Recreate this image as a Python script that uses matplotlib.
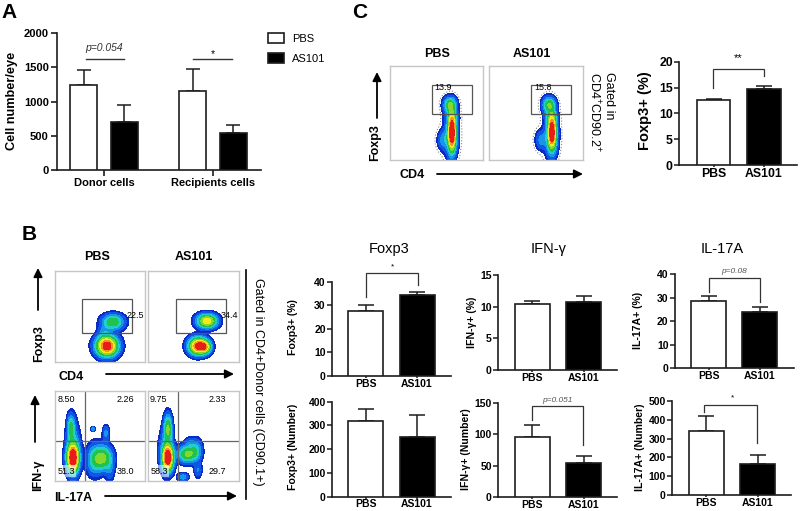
import numpy as np
import matplotlib
matplotlib.use('Agg')
import matplotlib.pyplot as plt
from matplotlib.patches import Rectangle

plt.rcParams['font.family'] = ['Liberation Sans', 'DejaVu Sans']
plt.rcParams['mathtext.default'] = 'regular'

W, H = 800, 511
DARK = '#1c1c1c'

# values
groups = ['PBS', 'AS101']
a_cats = ['Donor cells', 'Recipients cells']
a_pbs = [1240, 1150]
a_pbs_top = [1465, 1480]
a_as101 = [705, 535]
a_as101_top = [945, 660]

c_vals = [12.5, 14.7]
c_tops = [12.8, 15.3]

foxp3_pct = [27.5, 34.5]
foxp3_pct_top = [30, 35.5]
foxp3_num = [318, 252]
foxp3_num_top = [370, 345]
ifn_pct = [10.4, 10.8]
ifn_pct_top = [10.9, 11.8]
ifn_num = [96, 54]
ifn_num_top = [114, 66]
il17_pct = [28.5, 24]
il17_pct_top = [30.8, 25.8]
il17_num = [343, 165]
il17_num_top = [420, 213]

# flow plot density blobs: x, y (figure pixels), sx, sy, height
b1_blobs = [(113, 322, 7, 5, .42), (107, 346, 7, 6.5, 1.0), (104, 332, 4, 5, .1)]
b2_blobs = [(207, 321, 6.5, 4.5, .68), (198, 346, 6, 5.5, .9), (205, 347, 4, 4, .5)]
b3_blobs = [(73, 458, 3.8, 9, 1.0), (71, 427, 2.4, 8, .3), (73, 448, 4.5, 17, .2), (103, 458, 6, 8, .46),
            (94, 460, 5, 10, .24), (93, 429, 1.2, 1.4, .2), (106, 433, 2.2, 5, .16), (110, 470, 3, 8, .1)]
b4_blobs = [(168, 458, 3.4, 8, 1.0), (168, 428, 2.6, 9, .42), (166, 450, 4.5, 14, .2), (187, 454, 6, 5.5, .46),
            (196, 450, 4, 7, .22), (190, 442, 3, 3, .1), (183, 477, 3.5, 2.5, .2), (198, 470, 2.5, 5, .14)]
c1_blobs = [(450, 105, 4, 5, .42), (452, 132, 2.4, 12, 1.0), (451, 135, 4.5, 14, .22), (443, 140, 3.5, 6, .16),
            (452, 117, 4, 4, .14)]
c2_blobs = [(549, 105, 4, 5, .42), (552, 132, 2.6, 11, .95), (551, 135, 4.5, 14, .22), (541, 140, 3.5, 6, .16),
            (551, 117, 4, 4, .14)]

flow_levels = [.035, .07, .14, .22, .32, .44, .58, .72, .86, 5]
flow_colors = ['#0a2bc4', '#0f55e6', '#1596ea', '#1fcfc8', '#22c24c', '#84d92c', '#f4e81e', '#f5961c', '#e81c18']


def px_axes(fig, left, top, right, bottom):
    return fig.add_axes([left / W, 1 - bottom / H, (right - left) / W, (bottom - top) / H])


def bar_panel(fig, left, right, y0, ymax_px, ymax, ticks, centers, width, vals, tops, labels, fs=7.5, cap=5.5):
    ax = px_axes(fig, left, ymax_px, right, y0)
    unit = centers[1] - centers[0]
    ax.set_xlim((left - centers[0]) / unit, (right - centers[0]) / unit)
    ax.set_ylim(0, ymax)
    pos = np.arange(len(vals))
    errs = np.array(tops) - np.array(vals)
    ax.bar(pos, vals, width / unit, color=['white', 'black'], edgecolor=DARK, linewidth=1.2, zorder=3)
    ax.errorbar(pos, vals, yerr=[np.zeros(len(vals)), errs], fmt='none', ecolor=DARK, elinewidth=1.1,
                capsize=cap, capthick=1.1, zorder=2)
    ax.set_xticks(pos)
    ax.set_xticklabels(labels, fontsize=fs, fontweight='bold')
    ax.set_yticks(ticks)
    ax.set_yticklabels([str(t) for t in ticks], fontsize=fs, fontweight='bold')
    ax.tick_params(axis='y', length=3.5, width=1.1, color=DARK, pad=1)
    ax.tick_params(axis='x', length=1.5, width=1.1, color=DARK, pad=.5)
    ax.patch.set_alpha(0)
    for s in ['top', 'right']:
        ax.spines[s].set_visible(False)
    for s in ['left', 'bottom']:
        ax.spines[s].set_linewidth(1.2)
        ax.spines[s].set_color(DARK)
    return ax


def flow_panel(fig, left, top, right, bottom, blobs, speck=False):
    ax = px_axes(fig, left, top, right, bottom)
    xx, yy = np.meshgrid(np.linspace(left, right, 300), np.linspace(top, bottom, 300))
    dens = np.zeros_like(xx)
    for cx, cy, sx, sy, amp in blobs:
        dens += amp * np.exp(-0.5 * ((xx - cx) / sx) ** 2 - 0.5 * ((yy - cy) / sy) ** 2)
    if speck:
        ax.contour(xx, yy, dens, levels=[.012], colors='#888888', linewidths=.8, linestyles=':')
    ax.contourf(xx, yy, dens, levels=flow_levels, colors=flow_colors)
    ax.set_xlim(left, right)
    ax.set_ylim(bottom, top)
    ax.set_xticks([])
    ax.set_yticks([])
    for s in ax.spines.values():
        s.set_color('#c6c6c6')
        s.set_linewidth(1)
    return ax


def gate(ax, x0, y0, x1, y1):
    ax.add_patch(Rectangle((x0, y0), x1 - x0, y1 - y0, fill=False, edgecolor='#555555', linewidth=.9))


def bracket(x0, x1, y, y0, y1):
    over.plot([x0, x0, x1, x1], [y0, y, y, y1], color='#333333', lw=.9, solid_joinstyle='miter')


def arrow(x0, y0, x1, y1):
    over.annotate('', xy=(x1, y1), xytext=(x0, y0),
                  arrowprops=dict(arrowstyle='-|>', color='black', lw=1.3, mutation_scale=13, shrinkA=0, shrinkB=0))


def txt(x, y, s, size=8, weight='bold', style='normal', color='black', rot=0, ha='center', va='center', **kw):
    over.text(x, y, s, fontsize=size, fontweight=weight, fontstyle=style, color=color,
              rotation=rot, ha=ha, va=va, **kw)


fig = plt.figure(figsize=(W / 100, H / 100), dpi=100)

# panel A
ax_a = px_axes(fig, 57, 33.3, 261, 170)
ax_a.set_xlim((57 - 104) / 109, (261 - 104) / 109)
ax_a.set_ylim(0, 2000)
pos_a = np.arange(len(a_cats))
off = 0.186
bw = 0.252
b1 = ax_a.bar(pos_a - off, a_pbs, bw, color='white', edgecolor=DARK, linewidth=1.2, zorder=3, label='PBS')
b2 = ax_a.bar(pos_a + off, a_as101, bw, color='black', edgecolor=DARK, linewidth=1.2, zorder=3, label='AS101')
ax_a.errorbar(pos_a - off, a_pbs, yerr=[np.zeros(2), np.array(a_pbs_top) - np.array(a_pbs)], fmt='none',
              ecolor=DARK, elinewidth=1.1, capsize=5.2, capthick=1.1, zorder=2)
ax_a.errorbar(pos_a + off, a_as101, yerr=[np.zeros(2), np.array(a_as101_top) - np.array(a_as101)], fmt='none',
              ecolor=DARK, elinewidth=1.1, capsize=5.2, capthick=1.1, zorder=2)
ax_a.set_xticks(pos_a)
ax_a.set_xticklabels(a_cats, fontsize=8, fontweight='bold')
ax_a.set_yticks([0, 500, 1000, 1500, 2000])
ax_a.set_yticklabels(['0', '500', '1000', '1500', '2000'], fontsize=8, fontweight='bold')
ax_a.tick_params(axis='both', length=4, width=1.2, color=DARK, pad=2)
for s in ['top', 'right']:
    ax_a.spines[s].set_visible(False)
for s in ['left', 'bottom']:
    ax_a.spines[s].set_linewidth(1.2)
    ax_a.spines[s].set_color(DARK)
fig.legend(handles=[b1, b2], loc='upper left', bbox_to_anchor=(265 / W, 1 - 30 / H), frameon=False, fontsize=8,
           handlelength=1.4, handleheight=1.0, handletextpad=.7, labelspacing=.8, borderaxespad=0, borderpad=.3)

# panel C bars
ax_c = bar_panel(fig, 679, 797, 165, 61.7, 20, [0, 5, 10, 15, 20], [713.5, 764], 33.5, c_vals, c_tops, groups,
                 fs=8.8, cap=5.5)

# panel B bars
bar_panel(fig, 332, 451, 376, 281.7, 40, [0, 10, 20, 30, 40], [365.5, 417], 35, foxp3_pct, foxp3_pct_top, groups)
bar_panel(fig, 332, 451, 496.7, 401.7, 400, [0, 100, 200, 300, 400], [365.5, 417], 35, foxp3_num, foxp3_num_top, groups)
bar_panel(fig, 498, 617, 370, 275.3, 15, [0, 5, 10, 15], [532, 583.5], 35, ifn_pct, ifn_pct_top, groups)
bar_panel(fig, 498, 617, 497.3, 402.7, 150, [0, 50, 100, 150], [532, 583.5], 35, ifn_num, ifn_num_top, groups)
bar_panel(fig, 674.7, 794, 368.3, 274, 40, [0, 10, 20, 30, 40], [708.7, 759.7], 35, il17_pct, il17_pct_top, groups)
bar_panel(fig, 672, 791, 495, 401, 500, [0, 100, 200, 300, 400, 500], [706, 757.5], 35, il17_num, il17_num_top, groups)

# flow plots
fb1 = flow_panel(fig, 54.7, 271, 145, 362, b1_blobs)
fb2 = flow_panel(fig, 148, 271, 239, 362, b2_blobs)
fb3 = flow_panel(fig, 54.7, 391, 145, 481, b3_blobs)
fb4 = flow_panel(fig, 148, 391, 239, 481, b4_blobs)
fc1 = flow_panel(fig, 389.5, 66, 483, 160, c1_blobs, speck=True)
fc2 = flow_panel(fig, 489, 66, 583, 160, c2_blobs, speck=True)
gate(fb1, 82, 299, 132, 333)
gate(fb2, 176, 299, 226, 333)
gate(fc1, 432, 85, 472, 114)
gate(fc2, 531, 85, 571, 114)
for ax, vx in [(fb3, 85), (fb4, 178)]:
    ax.axvline(vx, color='#666666', lw=.9)
    ax.axhline(441, color='#666666', lw=.9)

# everything written in figure pixels goes on a transparent top layer
over = fig.add_axes([0, 0, 1, 1])
over.set_xlim(0, W)
over.set_ylim(H, 0)
over.axis('off')

txt(9, 12, 'A', size=15)
txt(360, 12, 'C', size=15)
txt(29, 234, 'B', size=15)

txt(12, 101, 'Cell number/eye', size=9.2, rot=90)
txt(104, 48, 'p=0.054', size=7.5, weight='normal', style='italic', color='#333333')
over.plot([86, 124], [59, 59], color='#333333', lw=1)
txt(213, 54, '*', size=7.5, weight='normal')
over.plot([193, 232], [59, 59], color='#333333', lw=1)

txt(437, 54, 'PBS', size=9)
txt(532, 54, 'AS101', size=9)
txt(375, 143, 'Foxp3', size=9, rot=90)
txt(412, 175, 'CD4', size=9)
arrow(377, 118, 377, 72)
arrow(437, 174, 583, 174)
txt(443, 87, '13.9', size=6.5, weight='normal')
txt(543, 87, '15.8', size=6.5, weight='normal')
txt(609, 72, 'Gated in', size=9, weight='normal', rot=270, va='top')
txt(594, 72, r'CD4$^{+}$CD90.2$^{+}$', size=9, weight='normal', rot=270, va='top')
txt(645, 111, 'Foxp3+ (%)', size=10.5, rot=90)
bracket(713, 764, 69.5, 87.7, 76)
txt(738, 58, '**', size=8, weight='normal')

txt(97, 257, 'PBS', size=9)
txt(194, 257, 'AS101', size=9)
txt(39, 344, 'Foxp3', size=9, rot=90)
txt(71, 377, 'CD4', size=9)
txt(38, 475, 'IFN-γ', size=9, rot=90)
txt(73, 498, 'IL-17A', size=9)
arrow(38, 310, 38, 268)
arrow(106, 374, 234, 374)
arrow(35, 442, 35, 395)
arrow(105, 496, 237, 496)
txt(135, 316, '22.5', size=6.5, weight='normal')
txt(229, 316, '34.4', size=6.5, weight='normal')
for x, y, s in [(66, 400, '8.50'), (125, 400, '2.26'), (125, 471, '38.0'),
                (158, 400, '9.75'), (217, 400, '2.33'), (217, 471, '29.7')]:
    txt(x, y, s, size=6.5, weight='normal')
txt(66, 471, '51.3', size=6.5, weight='normal', bbox=dict(fc='white', ec='none', alpha=.55, pad=1))
txt(159, 471, '58.3', size=6.5, weight='normal', bbox=dict(fc='white', ec='none', alpha=.55, pad=1))
over.plot([245.7, 245.7], [270, 499], color='black', lw=1.2)
txt(258, 278, 'Gated in CD4+Donor cells (CD90.1+)', size=9, weight='normal', rot=270, va='top')

txt(389, 249, 'Foxp3', size=10.5, weight='normal')
txt(548.7, 249, 'IFN-γ', size=10.5, weight='normal')
txt(722, 249, 'IL-17A', size=10.5, weight='normal')
txt(293, 327, 'Foxp3+ (%)', size=7.6, rot=90)
txt(293, 447, 'Foxp3+ (Number)', size=7.6, rot=90)
txt(471.7, 322, 'IFN-γ+ (%)', size=7.6, rot=90)
txt(466, 449, 'IFN-γ+ (Number)', size=7.6, rot=90)
txt(638, 320, 'IL-17A+ (%)', size=7.6, rot=90)
txt(640, 447, 'IL-17A+ (Number)', size=7.6, rot=90)

bracket(365.7, 418, 272.7, 296.7, 285)
txt(392.7, 266.5, '*', size=6, weight='normal')
bracket(532, 583, 406, 420, 445)
txt(557, 400.7, 'p=0.051', size=6, weight='normal', style='italic', color='#555555')
bracket(708.7, 760, 277.7, 291.7, 302.3)
txt(734, 271.7, 'p=0.08', size=6, weight='normal', style='italic', color='#555555')
bracket(704, 757, 404.7, 411.7, 443.3)
txt(732.7, 398, '*', size=6, weight='normal')

fig.savefig('out.png', dpi=100)
